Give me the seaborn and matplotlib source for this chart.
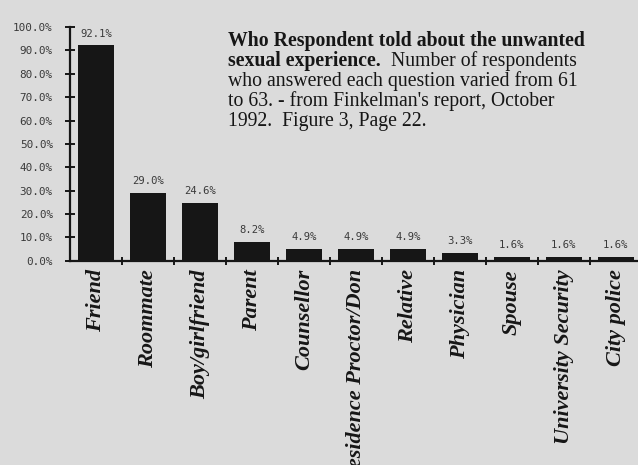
import numpy as np
import pandas as pd
import seaborn as sns
import matplotlib.pyplot as plt

categories = ['Friend', 'Roommate', 'Boy/girlfriend', 'Parent', 'Counsellor',
              'Residence Proctor/Don', 'Relative', 'Physician', 'Spouse',
              'University Security', 'City police']
percent_told = [92.1, 29.0, 24.6, 8.2, 4.9, 4.9, 4.9, 3.3, 1.6, 1.6, 1.6]
y_ticks = [0, 10, 20, 30, 40, 50, 60, 70, 80, 90, 100]

df = pd.DataFrame({'who': categories, 'pct': percent_told})

bg = '#dbdbdb'
ink = '#161616'

sns.set_style('white')
plt.rcParams['font.family'] = ['DejaVu Sans']

fig = plt.figure(figsize=(6.38, 4.65), dpi=100, facecolor=bg)
ax = fig.add_axes([0.110, 0.439, 0.896, 0.503], facecolor=bg)

sns.barplot(data=df, x='who', y='pct', color=ink, width=0.69,
            saturation=1, ax=ax, edgecolor=ink, linewidth=0)

ax.set_ylim(0, 100)
ax.set_xlim(-0.5, len(categories) - 0.5)
ax.set_xlabel('')
ax.set_ylabel('')

# bar value labels, typewriter style
ax.bar_label(ax.containers[0], labels=[f'{v:.1f}%' for v in percent_told],
             padding=5, fontsize=7.6, family='DejaVu Sans Mono', color='#3a3a3a')

# y axis
ax.set_yticks(y_ticks)
ax.set_yticklabels([f'{v:.1f}%' for v in y_ticks], family='DejaVu Sans Mono',
                   fontsize=7.9, color='#3a3a3a')
ax.tick_params(axis='y', left=True, direction='inout', length=7, width=1.4,
               color=ink, pad=9)

# x axis: labels at centres, tick marks between bars
ax.set_xticks(range(len(categories)))
ax.set_xticklabels(categories, rotation=90, family='Liberation Serif',
                   fontweight='bold', fontstyle='italic', fontsize=16, color=ink)
ax.tick_params(axis='x', which='major', bottom=True, length=0, pad=6)
ax.set_xticks(np.arange(len(categories)) + 0.5, minor=True)
ax.tick_params(axis='x', which='minor', bottom=True, direction='inout',
               length=6, width=1.4, color=ink)

for s in ['top', 'right']:
    ax.spines[s].set_visible(False)
for s in ['left', 'bottom']:
    ax.spines[s].set_color(ink)
    ax.spines[s].set_linewidth(1.6)
ax.spines['bottom'].set_bounds(-0.5, len(categories) - 0.5)

# caption block
cap = dict(family='Liberation Serif', fontsize=14.2, color=ink)
fig.text(0.357, 0.901, 'Who Respondent told about the unwanted',
         fontweight='bold', va='baseline', **cap)
t2 = fig.text(0.357, 0.858, 'sexual experience.', fontweight='bold',
              va='baseline', **cap)
ax.annotate('  Number of respondents', xy=(1, 0), xycoords=t2,
            va='bottom', ha='left', annotation_clip=False, **cap)
fig.text(0.357, 0.815, 'who answered each question varied from 61',
         va='baseline', **cap)
fig.text(0.357, 0.772, "to 63. - from Finkelman's report, October",
         va='baseline', **cap)
fig.text(0.357, 0.729, '1992.  Figure 3, Page 22.', va='baseline', **cap)

fig.savefig('out.png', dpi=100, facecolor=bg)
